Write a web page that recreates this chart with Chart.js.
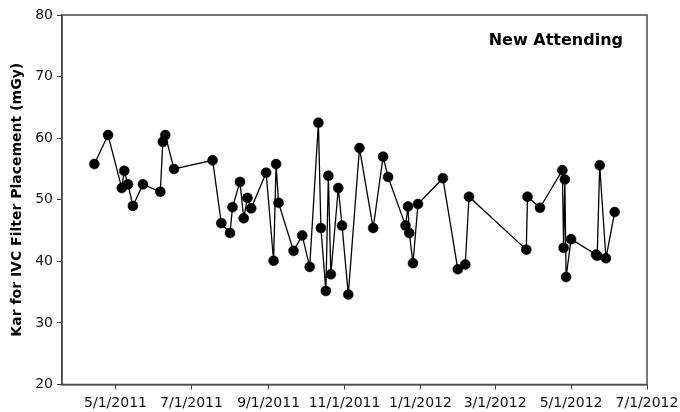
<!DOCTYPE html>
<html>
<head>
<meta charset="utf-8">
<script src="https://cdn.jsdelivr.net/npm/chart.js@4"></script>
<style>
  html, body { margin: 0; padding: 0; background: #fff; }
  #wrap { width: 680px; height: 412px; }
</style>
</head>
<body>
<div id="wrap"><canvas id="chart" width="680" height="412"></canvas></div>
<script>
// Procedure dates and air kerma for each IVC filter placement
const procDates = [
  '2011-04-14','2011-04-25','2011-05-06','2011-05-08','2011-05-11','2011-05-15','2011-05-23',
  '2011-06-06','2011-06-08','2011-06-10','2011-06-17','2011-07-18','2011-07-25','2011-08-01',
  '2011-08-03','2011-08-09','2011-08-12','2011-08-15','2011-08-18','2011-08-30','2011-09-05',
  '2011-09-07','2011-09-09','2011-09-21','2011-09-28','2011-10-04','2011-10-11','2011-10-13',
  '2011-10-17','2011-10-19','2011-10-21','2011-10-27','2011-10-30','2011-11-04','2011-11-13',
  '2011-11-24','2011-12-02','2011-12-06','2011-12-20','2011-12-22','2011-12-23','2011-12-26',
  '2011-12-30','2012-01-19','2012-01-31','2012-02-06','2012-02-09','2012-03-26','2012-03-27',
  '2012-04-06','2012-04-24','2012-04-25','2012-04-26','2012-04-27','2012-05-01','2012-05-21',
  '2012-05-22','2012-05-24','2012-05-29','2012-06-05'
];
const karValues = [
  55.8, 60.5, 51.9, 54.7, 52.5, 49.0, 52.5,
  51.3, 59.4, 60.5, 55.0, 56.4, 46.2, 44.6,
  48.8, 52.9, 47.0, 50.3, 48.6, 54.4, 40.1,
  55.8, 49.5, 41.7, 44.2, 39.1, 62.5, 45.4,
  35.2, 53.9, 37.9, 51.9, 45.8, 34.6, 58.4,
  45.4, 57.0, 53.7, 45.8, 48.9, 44.6, 39.7,
  49.3, 53.5, 38.7, 39.5, 50.5, 41.9, 50.5,
  48.7, 54.8, 42.2, 53.3, 37.45, 43.6, 41.1,
  40.9, 55.6, 40.5, 48.0
];

// Axis ticks and range
const xTickDates = ['2011-05-01','2011-07-01','2011-09-01','2011-11-01','2012-01-01','2012-03-01','2012-05-01','2012-07-01'];
const xRange = ['2011-03-19', '2012-07-01'];
const yTicks = [20, 30, 40, 50, 60, 70, 80];

const panelLabel = 'New Attending';
const yAxisTitle = 'Kar for IVC Filter Placement (mGy)';

function toTime(s) {
  const [y, m, d] = s.split('-').map(Number);
  return Date.UTC(y, m - 1, d);
}
function fmtDate(t) {
  const d = new Date(t);
  return (d.getUTCMonth() + 1) + '/' + d.getUTCDate() + '/' + d.getUTCFullYear();
}

Chart.defaults.font.family = '"DejaVu Sans", Verdana, sans-serif';
Chart.defaults.color = '#111';

// Closed frame around the plot plus the panel caption
const framePlugin = {
  id: 'frame',
  afterDraw(chart) {
    const { ctx, chartArea: a } = chart;
    ctx.save();
    ctx.strokeStyle = '#4a4a4a';
    ctx.lineWidth = 1.5;
    ctx.strokeRect(a.left, a.top, a.right - a.left, a.bottom - a.top);
    ctx.font = 'bold 16px "DejaVu Sans", Verdana, sans-serif';
    ctx.fillStyle = '#000';
    ctx.textAlign = 'right';
    ctx.textBaseline = 'alphabetic';
    ctx.fillText(panelLabel, a.right - 24, a.top + 30);
    ctx.restore();
  }
};

new Chart(document.getElementById('chart'), {
  type: 'line',
  data: {
    datasets: [{
      data: procDates.map((d, i) => ({ x: toTime(d), y: karValues[i] })),
      borderColor: '#000',
      borderWidth: 1.3,
      pointRadius: 5,
      pointBackgroundColor: '#000',
      pointBorderColor: '#000',
      pointBorderWidth: 0.5,
      tension: 0,
      fill: false
    }]
  },
  options: {
    responsive: false,
    devicePixelRatio: 1,
    animation: false,
    layout: { padding: { top: 15, right: 33, left: 0, bottom: 0 } },
    plugins: { legend: { display: false }, tooltip: { enabled: false } },
    scales: {
      x: {
        type: 'linear',
        min: toTime(xRange[0]),
        max: toTime(xRange[1]),
        afterBuildTicks: s => { s.ticks = xTickDates.map(d => ({ value: toTime(d) })); },
        afterFit: s => { s.height = 27.5; s.paddingRight = 33; s.paddingLeft = 0; },
        ticks: {
          callback: v => fmtDate(v),
          font: { size: 14 },
          color: '#111',
          maxRotation: 0,
          autoSkip: false,
          padding: 5
        },
        grid: { display: true, drawOnChartArea: false, drawTicks: true, tickLength: 5, color: '#333', lineWidth: 1 },
        border: { display: true, color: '#4a4a4a', width: 1.5 }
      },
      y: {
        min: 20,
        max: 80,
        afterBuildTicks: s => { s.ticks = yTicks.map(v => ({ value: v })); },
        afterFit: s => { s.width = 62; s.paddingTop = 0; s.paddingBottom = 0; },
        ticks: { font: { size: 14 }, color: '#111', padding: 4 },
        grid: { display: true, drawOnChartArea: false, drawTicks: true, tickLength: 5, color: '#333', lineWidth: 1 },
        border: { display: true, color: '#4a4a4a', width: 1.5 },
        title: {
          display: true,
          text: yAxisTitle,
          font: { size: 14, weight: 'bold' },
          color: '#000',
          padding: { top: 9, bottom: 0 }
        }
      }
    }
  },
  plugins: [framePlugin]
});
</script>
</body>
</html>
